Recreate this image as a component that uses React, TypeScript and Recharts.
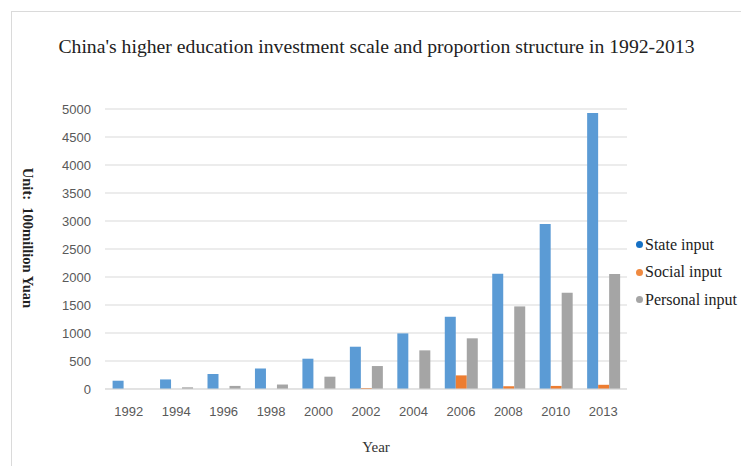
import React from 'react';
import { BarChart, Bar, XAxis, YAxis, CartesianGrid, Legend } from 'recharts';

const years = ['1992', '1994', '1996', '1998', '2000', '2002', '2004', '2006', '2008', '2010', '2013'];
const stateInput = [148, 171, 268, 368, 541, 755, 993, 1290, 2060, 2945, 4930];
const socialInput = [0, 0, 0, 0, 0, 18, 0, 243, 50, 55, 75];
const personalInput = [0, 30, 55, 80, 220, 410, 690, 905, 1475, 1720, 2055];
const yTicks = [0, 500, 1000, 1500, 2000, 2500, 3000, 3500, 4000, 4500, 5000];

const seriesNames = ['State input', 'Social input', 'Personal input'];
const barColors = ['#5B9BD5', '#ED7D31', '#A5A5A5'];
const legendColors = ['#1570C4', '#F08A40', '#A5A5A5'];

const data = years.map((y, i) => ({
  year: y,
  state: stateInput[i],
  social: socialInput[i],
  personal: personalInput[i],
}));

const serif = '"Liberation Serif", "Times New Roman", serif';
const sans = '"Liberation Sans", Arial, sans-serif';

const LegendContent = (props: any) => {
  const payload = [...(props.payload || [])].sort(
    (a: any, b: any) => seriesNames.indexOf(a.value) - seriesNames.indexOf(b.value)
  );
  return (
    <div style={{ fontFamily: serif, fontSize: 16, color: '#222' }}>
      {payload.map((p: any, i: number) => (
        <div key={i} style={{ display: 'flex', alignItems: 'center', height: 27.5 }}>
          <span
            style={{
              display: 'inline-block',
              width: 7,
              height: 7,
              borderRadius: '50%',
              background: legendColors[seriesNames.indexOf(p.value)],
              marginRight: 2,
            }}
          />
          <span>{p.value}</span>
        </div>
      ))}
    </div>
  );
};

export default function App() {
  return (
    <div style={{ position: 'absolute', left: 0, top: 0, width: 741, height: 466, background: '#fff', overflow: 'hidden' }}>
      <div
        style={{
          position: 'absolute',
          left: 11,
          top: 11,
          width: 800,
          height: 500,
          border: '1px solid #DADADA',
          boxSizing: 'border-box',
        }}
      />
      <BarChart
        width={741}
        height={466}
        data={data}
        margin={{ top: 109, right: 114, bottom: 47, left: 55 }}
        barCategoryGap="16%"
        barGap={0}
      >
        <CartesianGrid vertical={false} stroke="#D9D9D9" />
        <XAxis
          dataKey="year"
          axisLine={{ stroke: '#D9D9D9' }}
          tickLine={false}
          height={30}
          tick={{ fill: '#595959', fontSize: 13, fontFamily: sans }}
          tickMargin={12}
        />
        <YAxis
          width={50}
          domain={[0, 5000]}
          ticks={yTicks}
          axisLine={false}
          tickLine={false}
          interval={0}
          tick={{ fill: '#595959', fontSize: 13, fontFamily: sans }}
          tickMargin={8}
        />
        <Legend
          layout="vertical"
          verticalAlign="middle"
          align="center"
          content={<LegendContent />}
          wrapperStyle={{ position: 'absolute', left: 636, top: 231, width: 110 }}
        />
        <Bar dataKey="state" name={seriesNames[0]} fill={barColors[0]} isAnimationActive={false} />
        <Bar dataKey="social" name={seriesNames[1]} fill={barColors[1]} isAnimationActive={false} />
        <Bar dataKey="personal" name={seriesNames[2]} fill={barColors[2]} isAnimationActive={false} />
      </BarChart>
      <div
        style={{
          position: 'absolute',
          left: 0,
          width: 741,
          top: 35,
          textAlign: 'center',
          fontFamily: serif,
          fontSize: 19.7,
          color: '#222',
          whiteSpace: 'nowrap',
        }}
      >
        <span style={{ position: 'relative', left: 6 }}>
          China's higher education investment scale and proportion structure in 1992-2013
        </span>
      </div>
      <div
        style={{
          position: 'absolute',
          left: 376,
          top: 447,
          transform: 'translate(-50%, -50%)',
          fontFamily: serif,
          fontSize: 15,
          color: '#333',
          whiteSpace: 'nowrap',
        }}
      >
        Year
      </div>
      <div
        style={{
          position: 'absolute',
          left: 27,
          top: 238,
          transform: 'translate(-50%, -50%) rotate(90deg)',
          fontFamily: serif,
          fontSize: 14.5,
          fontWeight: 'bold',
          color: '#222',
          whiteSpace: 'pre',
        }}
      >
        {'Unit:  100million Yuan'}
      </div>
    </div>
  );
}
